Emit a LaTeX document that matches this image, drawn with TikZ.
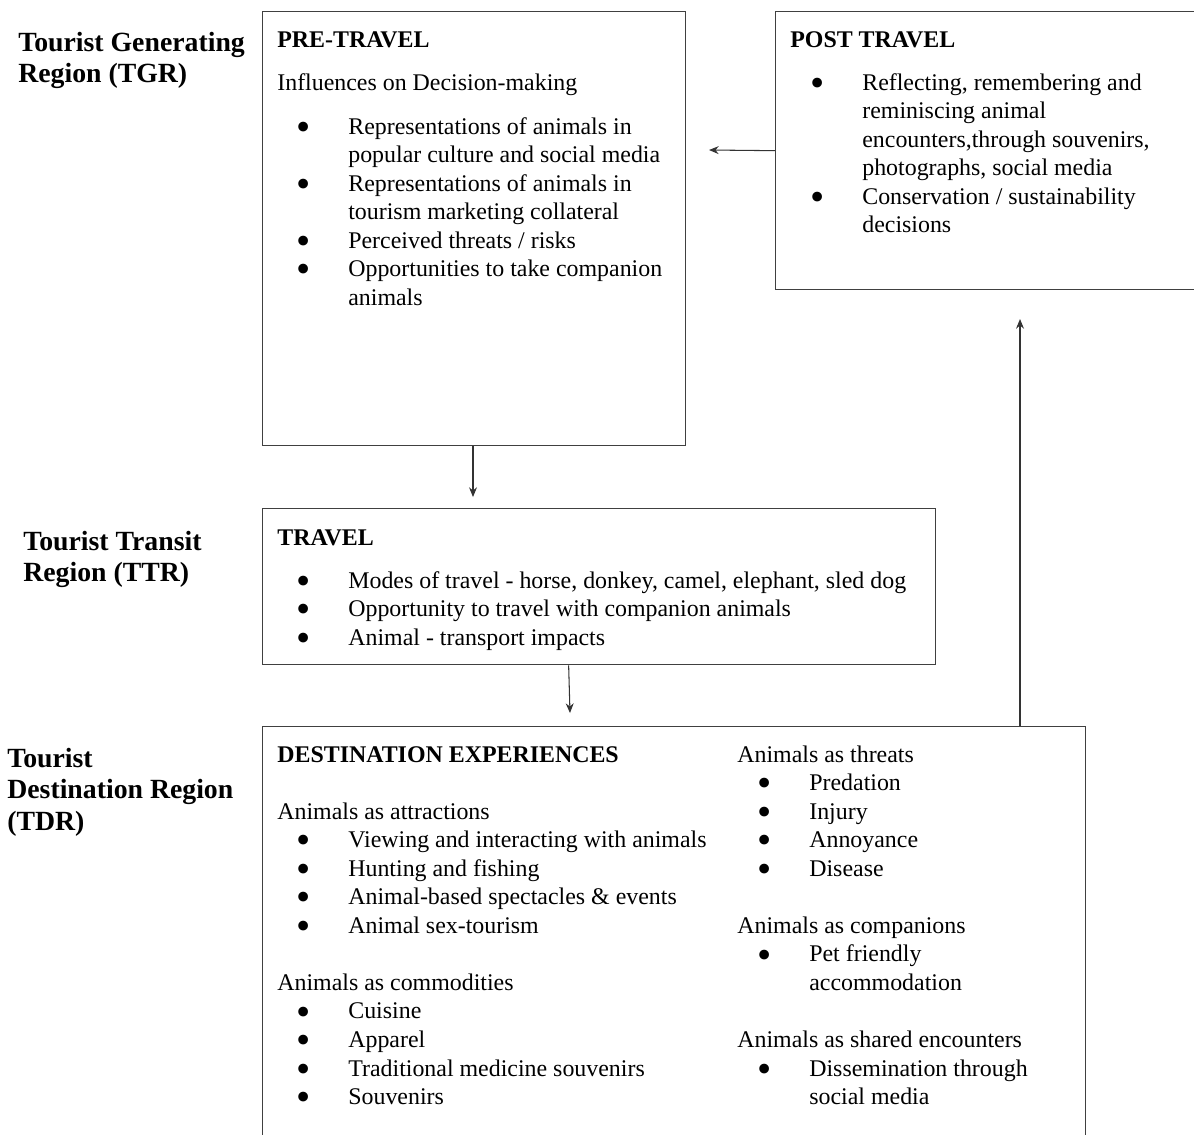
\documentclass[tikz,border=0pt]{standalone}
\usepackage{fontspec}
\usepackage{graphicx}
\setmainfont{Liberation Serif}
\usetikzlibrary{arrows.meta,calc}
\newcommand\bodyfont{\fontsize{13.6}{16.25}\selectfont}
\newcommand\regionfont{\fontsize{15.8}{18.1}\selectfont\bfseries}
\newcommand\blt{\makebox[4.8pt][c]{\smash{\raisebox{-3.5pt}{\scalebox{1.7}{\textbullet}}}}}
\newcommand\lines[1]{\begin{tabular}[t]{@{}l@{}}#1\end{tabular}}
\newcommand\blist[1]{\begin{tabular}[t]{@{}p{0.98cm}@{}l@{}}#1\end{tabular}}

\begin{document}
\begin{tikzpicture}[x=0.02cm, y=-0.02cm,
    box/.style={draw=black!75, line width=0.8pt, inner sep=0pt, anchor=north west},
    words/.style={inner sep=0pt, anchor=base west, font=\bodyfont},
    region/.style={inner sep=0pt, anchor=base west, font=\regionfont},
    link/.style={draw=black!80, line width=0.6pt, -{Stealth[length=5.5pt,width=4.5pt]}}]
  \useasboundingbox (0,0) rectangle (1194,1134);

  \node [region] (tgr) at (18,51) {\lines{Tourist Generating\\Region (TGR)}};
  \node [region] (ttr) at (23,550) {\lines{Tourist Transit\\Region (TTR)}};
  \node [region] (tdr) at (7,767) {\lines{Tourist\\Destination Region\\(TDR)}};

  \node [box, minimum width=8.46cm, minimum height=8.68cm] (pre) at (262,11) {};
  \node [box, minimum width=8.8cm, minimum height=5.56cm] (post) at (775,11) {};
  \node [box, minimum width=13.46cm, minimum height=3.12cm] (travel) at (262,508) {};
  \node [box, minimum width=16.46cm, minimum height=9cm] (dest) at (262,726) {};

  \node [words] (prehead) at (277,47) {\textbf{PRE-TRAVEL}};
  \node [words] (presub) at (277,90) {Influences on Decision-making};
  \node [words] (prelist) at (299,134) {\blist{%
    \blt & Representations of animals in\\
         & popular culture and social media\\
    \blt & Representations of animals in\\
         & tourism marketing collateral\\
    \blt & Perceived threats / risks\\
    \blt & Opportunities to take companion\\
         & animals}};

  \node [words] (posthead) at (790,47) {\textbf{POST TRAVEL}};
  \node [words] (postlist) at (813,90) {\blist{%
    \blt & Reflecting, remembering and\\
         & reminiscing animal\\
         & encounters,through souvenirs,\\
         & photographs, social media\\
    \blt & Conservation / sustainability\\
         & decisions}};

  \node [words] (travelhead) at (277,545) {\textbf{TRAVEL}};
  \node [words] (travellist) at (299,588) {\blist{%
    \blt & Modes of travel - horse, donkey, camel, elephant, sled dog\\
    \blt & Opportunity to travel with companion animals\\
    \blt & Animal - transport impacts}};

  \node [words] (destleft) at (277,762) {\begin{tabular}[t]{@{}p{0.44cm}@{}p{0.98cm}@{}l@{}}
    \multicolumn{3}{@{}l@{}}{\textbf{DESTINATION EXPERIENCES}}\\
    \\
    \multicolumn{3}{@{}l@{}}{Animals as attractions}\\
    & \blt & Viewing and interacting with animals\\
    & \blt & Hunting and fishing\\
    & \blt & Animal-based spectacles \& events\\
    & \blt & Animal sex-tourism\\
    \\
    \multicolumn{3}{@{}l@{}}{Animals as commodities}\\
    & \blt & Cuisine\\
    & \blt & Apparel\\
    & \blt & Traditional medicine souvenirs\\
    & \blt & Souvenirs
  \end{tabular}};
  \node [words] (destright) at (737,762) {\begin{tabular}[t]{@{}p{0.46cm}@{}p{0.98cm}@{}l@{}}
    \multicolumn{3}{@{}l@{}}{Animals as threats}\\
    & \blt & Predation\\
    & \blt & Injury\\
    & \blt & Annoyance\\
    & \blt & Disease\\
    \\
    \multicolumn{3}{@{}l@{}}{Animals as companions}\\
    & \blt & Pet friendly\\
    &      & accommodation\\
    \\
    \multicolumn{3}{@{}l@{}}{Animals as shared encounters}\\
    & \blt & Dissemination through\\
    &      & social media
  \end{tabular}};

  \coordinate (tip1) at (473,497);
  \coordinate (tip2) at (570,713);
  \coordinate (tip3) at (1020,319);
  \coordinate (tip4) at (709,150);
  \draw [link] (tip1 |- pre.south) -- (tip1);
  \draw [link] ([xshift=-0.61cm]travel.south) -- (tip2);
  \draw [link] (tip3 |- dest.north) -- (tip3);
  \draw [link] (post.west) -- (tip4);
\end{tikzpicture}
\end{document}
